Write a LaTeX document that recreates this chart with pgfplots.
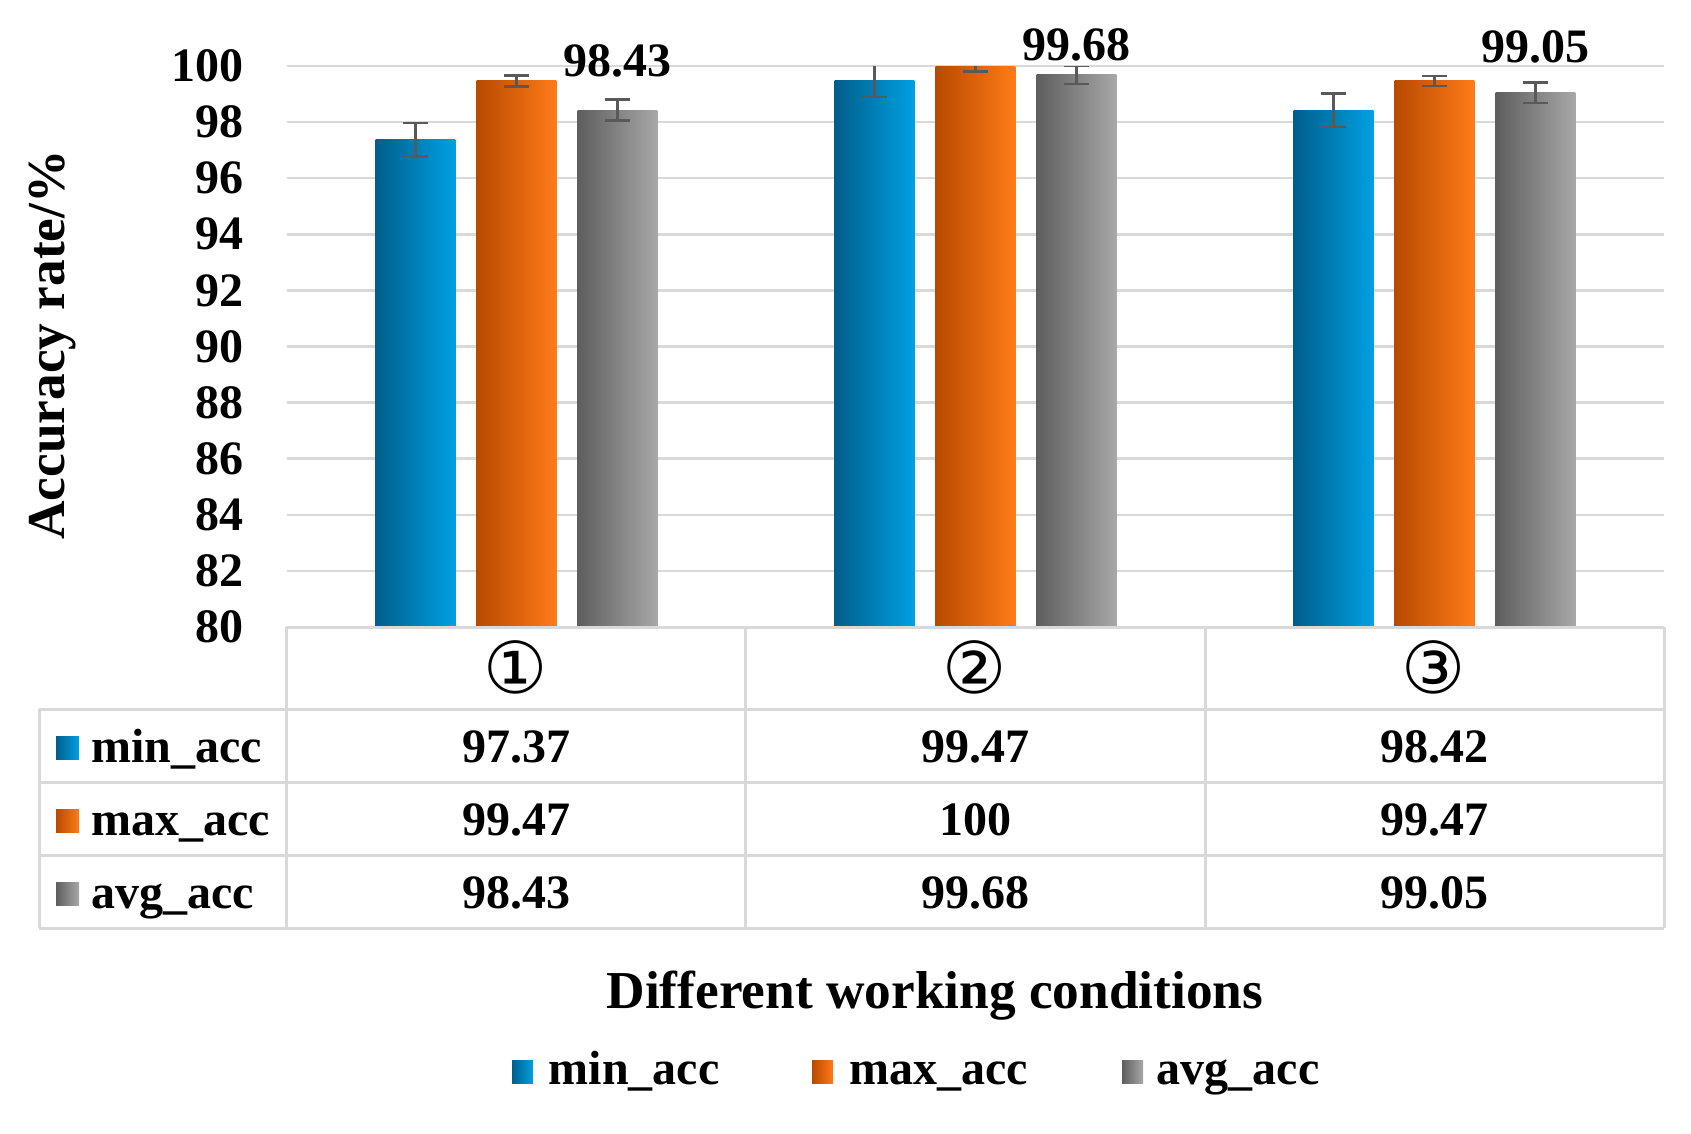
\documentclass[border=0pt]{standalone}
\usepackage{pgfplots}
\pgfplotsset{compat=1.18}
\usepackage{fontspec}
\setmainfont{Liberation Serif}
\newfontfamily\symfont{DejaVu Sans}
\definecolor{bluedark}{HTML}{005E8C}
\definecolor{bluelight}{HTML}{00A0E3}
\definecolor{orgdark}{HTML}{B84A00}
\definecolor{orglight}{HTML}{FF7B18}
\definecolor{graydark}{HTML}{5E5E5E}
\definecolor{graylight}{HTML}{A8A8A8}
\definecolor{gridc}{HTML}{D9D9D9}
\definecolor{errc}{HTML}{595959}
\newcommand{\lbl}{\fontsize{14.4}{16}\selectfont\bfseries}
\newcommand{\ttl}{\fontsize{16}{18}\selectfont\bfseries}
\pgfplotsset{
  errstyle/.style={error bars/.cd, y dir=both, y explicit,
    error bar style={draw=errc, line width=0.75pt},
    error mark options={rotate=90, draw=errc, mark size=3.75pt, line width=0.75pt}},
  barb/.style={ybar, bar width=0.174, bar shift=0, draw=none, left color=bluedark, right color=bluelight, errstyle},
  baro/.style={ybar, bar width=0.174, bar shift=0, draw=none, left color=orgdark, right color=orglight, errstyle},
  barg/.style={ybar, bar width=0.174, bar shift=0, draw=none, left color=graydark, right color=graylight, errstyle},
  common/.style={at={(86.1pt,-188.1pt)}, anchor=south west,
    scale only axis, width=413.1pt, height=168.3pt,
    xmin=-0.5, xmax=2.5, ymin=80, ymax=100}
}
\begin{document}
\begin{tikzpicture}
\path[use as bounding box] (0,0) rectangle (507.3pt,-339.9pt);
\begin{axis}[common,
  ytick distance=2, xtick=\empty,
  ymajorgrids, major grid style={draw=gridc, line width=0.75pt},
  axis line style={draw=none}, major tick length=0pt,
  /pgf/number format/assume math mode=true,
  yticklabel style={font=\lbl, inner sep=0pt, xshift=-13pt},
  clip marker paths=true]
% min_acc (blue)
\addplot[barb] coordinates {(-0.22,97.37) +- (0,0.60)};
\addplot[barb] coordinates {(0.78,99.47) +- (0,0.58)};
\addplot[barb] coordinates {(1.78,98.42) +- (0,0.60)};
% max_acc (orange)
\addplot[baro] coordinates {(0,99.47) +- (0,0.20)};
\addplot[baro] coordinates {(1,100) +- (0,0.19)};
\addplot[baro] coordinates {(2,99.47) +- (0,0.18)};
% avg_acc (gray)
\addplot[barg] coordinates {(0.22,98.43) +- (0,0.37)};
\addplot[barg] coordinates {(1.22,99.68) +- (0,0.33)};
\addplot[barg] coordinates {(2.22,99.05) +- (0,0.36)};
\end{axis}
\begin{axis}[common, hide axis, clip=false]
\addplot[draw=none, mark=none, nodes near coords, point meta=explicit symbolic,
  every node near coord/.append style={font=\lbl, anchor=base, inner sep=0pt}]
  coordinates {(0.22,99.63)[98.43] (1.22,100.18)[99.68] (2.22,100.12)[99.05]};
\end{axis}
\begin{scope}[x=0.3pt,y=-0.3pt]
  \begin{scope}[draw=gridc, line width=0.9pt]
    \draw (286,627) -- (1664,627);
    \foreach \yy in {709,782,855,928} \draw (39,\yy) -- (1664,\yy);
    \foreach \xx in {286,745,1205,1664} \draw (\xx,627) -- (\xx,928);
    \draw (39,709) -- (39,928);
  \end{scope}
  \node[font=\symfont\fontsize{21.5}{22}\selectfont] at (516,667) {①};
  \node[font=\symfont\fontsize{21.5}{22}\selectfont] at (975,667) {②};
  \node[font=\symfont\fontsize{21.5}{22}\selectfont] at (1434,667) {③};
  % row labels
  \shade[left color=bluedark, right color=bluelight] (56,736) rectangle (79,759);
  \shade[left color=orgdark, right color=orglight] (56,809) rectangle (79,832);
  \shade[left color=graydark, right color=graylight] (56,882) rectangle (79,905);
  \node[font=\lbl, anchor=base west, inner sep=0pt] at (91,762) {min\_acc};
  \node[font=\lbl, anchor=base west, inner sep=0pt] at (91,835) {max\_acc};
  \node[font=\lbl, anchor=base west, inner sep=0pt] at (91,908) {avg\_acc};
  % values
  \node[font=\lbl, anchor=base, inner sep=0pt] at (516,762) {97.37};
  \node[font=\lbl, anchor=base, inner sep=0pt] at (975,762) {99.47};
  \node[font=\lbl, anchor=base, inner sep=0pt] at (1434,762) {98.42};
  \node[font=\lbl, anchor=base, inner sep=0pt] at (516,835) {99.47};
  \node[font=\lbl, anchor=base, inner sep=0pt] at (975,835) {100};
  \node[font=\lbl, anchor=base, inner sep=0pt] at (1434,835) {99.47};
  \node[font=\lbl, anchor=base, inner sep=0pt] at (516,908) {98.43};
  \node[font=\lbl, anchor=base, inner sep=0pt] at (975,908) {99.68};
  \node[font=\lbl, anchor=base, inner sep=0pt] at (1434,908) {99.05};
  % titles
  \node[font=\ttl, anchor=base, inner sep=0pt] at (935,1008) {Different working conditions};
  \node[font=\ttl, anchor=base, inner sep=0pt, rotate=90] at (64,345) {Accuracy rate/\%};
  % legend
  \shade[left color=bluedark, right color=bluelight] (512,1060) rectangle (533,1083);
  \shade[left color=orgdark, right color=orglight] (812,1060) rectangle (833,1083);
  \shade[left color=graydark, right color=graylight] (1122,1060) rectangle (1143,1083);
  \node[font=\lbl, anchor=base west, inner sep=0pt] at (548,1084) {min\_acc};
  \node[font=\lbl, anchor=base west, inner sep=0pt] at (849,1084) {max\_acc};
  \node[font=\lbl, anchor=base west, inner sep=0pt] at (1156,1084) {avg\_acc};
\end{scope}
\end{tikzpicture}
\end{document}
